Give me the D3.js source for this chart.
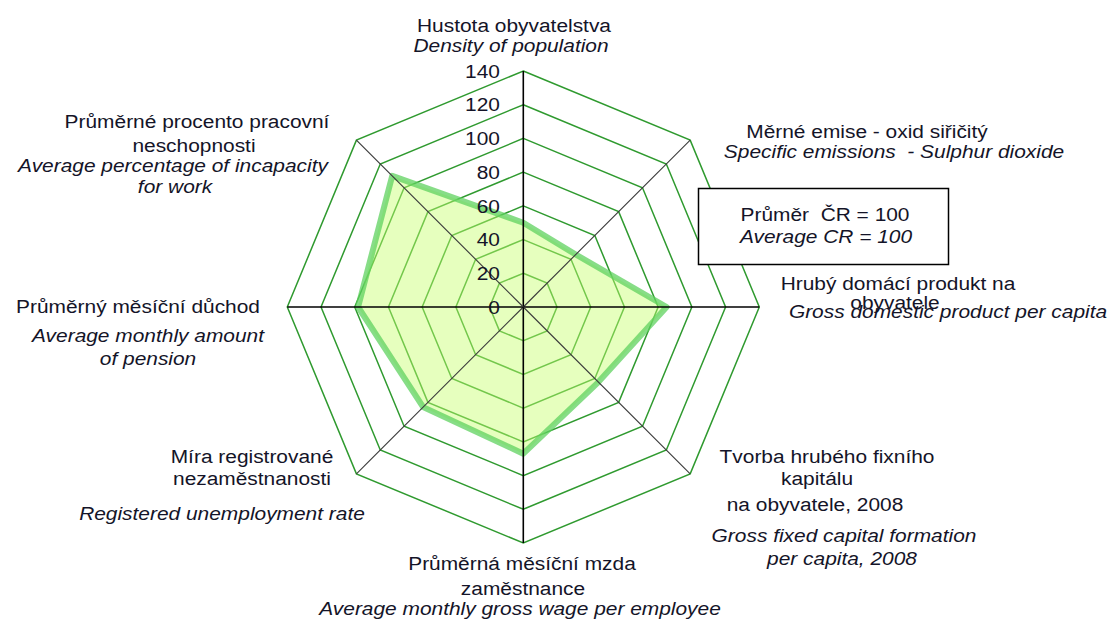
<!DOCTYPE html>
<html>
<head>
<meta charset="utf-8">
<title>Radar</title>
<script src="https://d3js.org/d3.v7.min.js"></script>
<style>
  body { margin: 0; background: #fff; }
  svg text { font-family: "Liberation Sans", Arial, sans-serif; fill: #141428; white-space: pre; }
</style>
</head>
<body>
<div id="chart"></div>
<script>
// data, clockwise from the top
var axesCz = [
  ["Hustota obyvatelstva"],
  ["Měrné emise - oxid siřičitý"],
  ["Hrubý domácí produkt na", "obyvatele"],
  ["Tvorba hrubého fixního", "kapitálu", "na obyvatele, 2008"],
  ["Průměrná měsíční mzda", "zaměstnance"],
  ["Míra registrované", "nezaměstnanosti"],
  ["Průměrný měsíční důchod"],
  ["Průměrné procento pracovní", "neschopnosti"]
];
var axesEn = [
  ["Density of population"],
  ["Specific emissions  - Sulphur dioxide"],
  ["Gross domestic product per capita"],
  ["Gross fixed capital formation", "per capita, 2008"],
  ["Average monthly gross wage per employee"],
  ["Registered unemployment rate"],
  ["Average monthly amount", "of pension"],
  ["Average percentage of incapacity", "for work"]
];
var values = [50, 44, 85, 63, 87, 84, 98, 110];
var ticks = [0, 20, 40, 60, 80, 100, 120, 140];
var boxLines = ["Průměr  ČR = 100", "Average CR = 100"];

// layout: centre x and baseline y of each label line (cz lines, then en lines)
var labelPos = [
  {cz: [[514, 32]], en: [[511, 52]]},
  {cz: [[867, 138]], en: [[894, 158]]},
  {cz: [[898, 290], [895, 309]], en: [[948, 318]]},
  {cz: [[827, 463], [817, 485], [815, 511]], en: [[844, 542], [842, 565]]},
  {cz: [[522, 570], [523, 595]], en: [[520, 615]]},
  {cz: [[252, 463], [252, 485]], en: [[222, 520]]},
  {cz: [[138, 313]], en: [[148, 342], [148, 365]]},
  {cz: [[197, 128], [194, 152]], en: [[173, 172], [175, 193]]}
];

var W = 1117, H = 621, cx = 523.3, cy = 307;
var fs = 19, sx = 1.1;

var svg = d3.select("#chart").append("svg").attr("width", W).attr("height", H);

var r = d3.scaleLinear().domain([0, 140]).range([0, 236]);
var n = values.length;
function ang(i) { return i * 2 * Math.PI / n; }
function pt(i, v) { return [cx + r(v) * Math.sin(ang(i)), cy - r(v) * Math.cos(ang(i))]; }

// grid rings
var ringLine = d3.line();
svg.append("g").selectAll("path").data(ticks.filter(function(t) { return t > 0; }))
  .enter().append("path")
  .attr("d", function(t) { return ringLine(d3.range(n).map(function(i) { return pt(i, t); })) + "Z"; })
  .attr("fill", "none").attr("stroke", "#2f9a2f").attr("stroke-width", 1.5);

// series area
var area = d3.line();
svg.append("path")
  .attr("d", area(values.map(function(v, i) { return pt(i, v); })) + "Z")
  .attr("fill", "rgb(200,255,110)").attr("fill-opacity", 0.45)
  .attr("stroke", "#5fd15f").attr("stroke-opacity", 0.75)
  .attr("stroke-width", 6).attr("stroke-linejoin", "round");

// spokes
svg.append("g").selectAll("line").data(d3.range(n)).enter().append("line")
  .attr("x1", cx).attr("y1", cy)
  .attr("x2", function(i) { return pt(i, 140)[0]; })
  .attr("y2", function(i) { return pt(i, 140)[1]; })
  .attr("stroke", function(i) { return i % 2 ? "#3a3a3a" : "#000"; })
  .attr("stroke-width", function(i) { return i % 2 ? 1.1 : 1.6; });

// tick labels
svg.append("g").selectAll("text").data(ticks).enter().append("text")
  .attr("transform", function(t) { return "translate(500," + (cy - r(t)) + ") scale(" + sx + ",1)"; })
  .attr("text-anchor", "end").attr("dy", "0.35em")
  .style("font-size", fs + "px")
  .text(function(t) { return t; });

// axis labels
function putLine(txt, p, italic) {
  svg.append("text")
    .attr("transform", "translate(" + p[0] + "," + p[1] + ") scale(" + sx + ",1)")
    .attr("text-anchor", "middle")
    .style("font-size", fs + "px")
    .style("font-style", italic ? "italic" : "normal")
    .text(txt);
}
labelPos.forEach(function(lp, i) {
  axesCz[i].forEach(function(t, j) { putLine(t, lp.cz[j], false); });
  axesEn[i].forEach(function(t, j) { putLine(t, lp.en[j], true); });
});

// note box
svg.append("rect").attr("x", 698.5).attr("y", 188.5).attr("width", 250).attr("height", 76)
  .attr("fill", "#fff").attr("stroke", "#000").attr("stroke-width", 1.5);
putLine(boxLines[0], [825, 221], false);
putLine(boxLines[1], [826, 243], true);
</script>
</body>
</html>
